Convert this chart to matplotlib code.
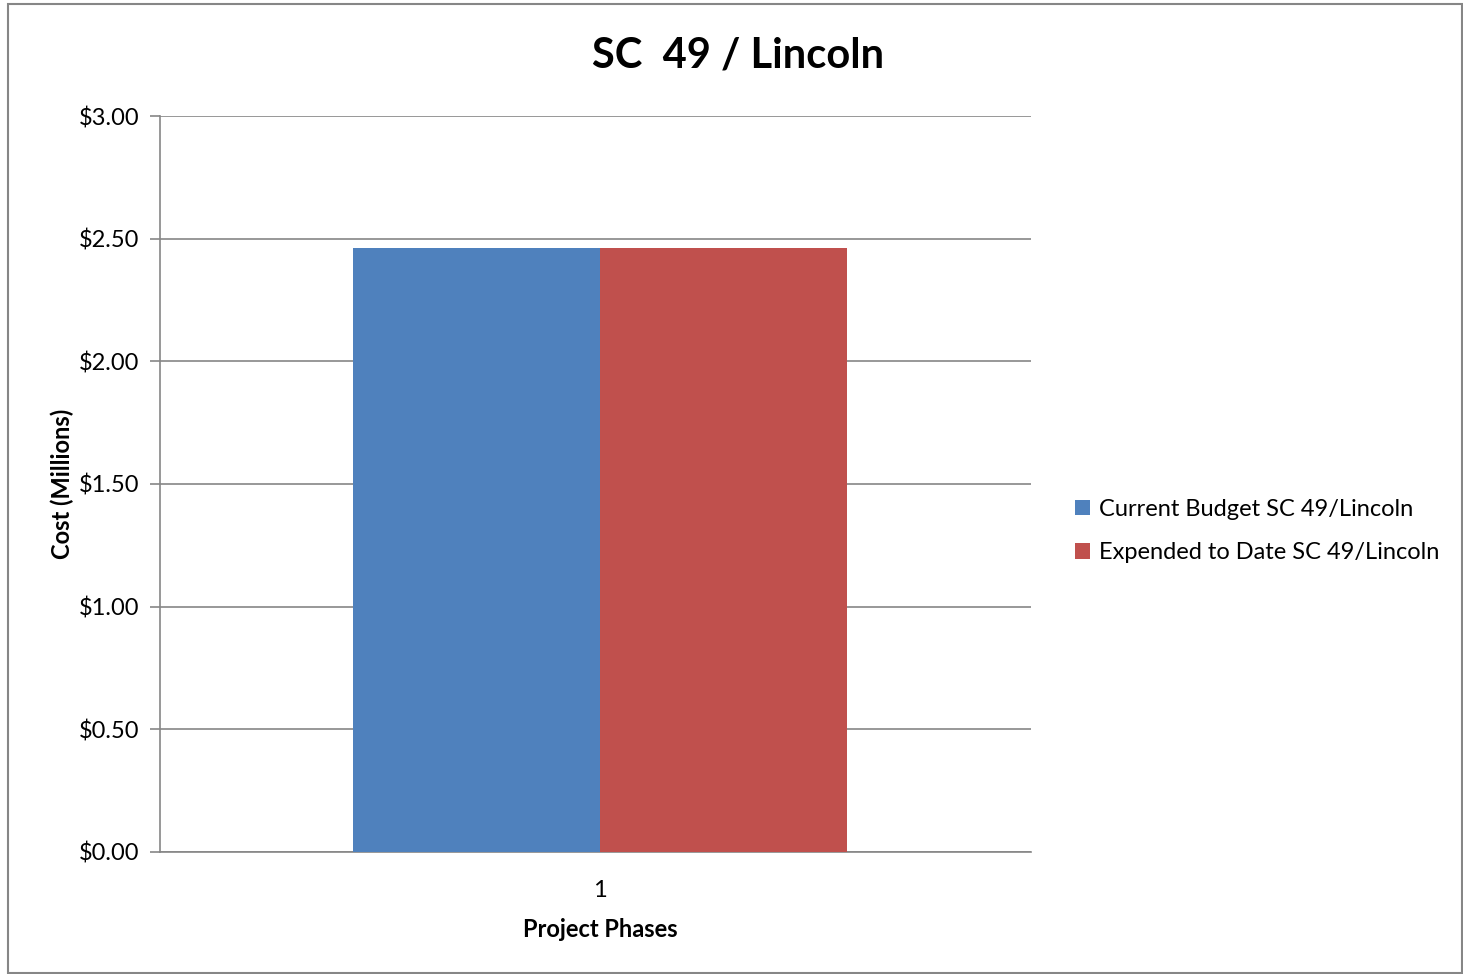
import matplotlib.pyplot as plt
import numpy as np
from matplotlib.patches import Rectangle

plt.rcParams["font.family"] = ["Lato", "DejaVu Sans"]

# data
phases = ["1"]
budget = [2.463]
expended = [2.463]
series_names = ["Current Budget SC 49/Lincoln", "Expended to Date SC 49/Lincoln"]
colors = ["#4f81bd", "#c0504d"]
yticks = [0.0, 0.5, 1.0, 1.5, 2.0, 2.5, 3.0]

fig = plt.figure(figsize=(14.63, 9.74), dpi=100)
ax = fig.add_axes([0.1094, 0.1253, 0.5953, 0.7556])

x = np.arange(len(phases))
bar_w = 0.2836
ax.bar(x - bar_w / 2, budget, bar_w, color=colors[0], label=series_names[0], zorder=3)
ax.bar(x + bar_w / 2, expended, bar_w, color=colors[1], label=series_names[1], zorder=3)

ax.set_xlim(-0.505, 0.495)
ax.set_ylim(0, 3.0)
ax.set_yticks(yticks)
ax.set_yticklabels([f"${v:.2f}" for v in yticks], fontsize=17)
ax.set_xticks(x)
ax.set_xticklabels(phases, fontsize=17)
ax.tick_params(axis="x", length=0, pad=20)
ax.tick_params(axis="y", length=7, color="#868686", width=1.2, pad=8)
ax.grid(axis="y", color="#868686", linewidth=1.2, zorder=0)
for side in ("top", "right"):
    ax.spines[side].set_visible(False)
for side in ("left", "bottom"):
    ax.spines[side].set_color("#868686")
    ax.spines[side].set_linewidth(1.2)

ax.set_xlabel("Project Phases", fontsize=17, fontweight="bold")
ax.xaxis.set_label_coords(0.505, -0.09)
ax.set_ylabel("Cost (Millions)", fontsize=17, fontweight="bold", labelpad=3.5)
fig.text(0.5045, 0.9435, "SC  49 / Lincoln", ha="center", va="center",
         fontsize=30, fontweight="bold")

ax.legend(loc="center left", bbox_to_anchor=(1.0505, 0.436), frameon=False,
          fontsize=17, handlelength=0.65, handleheight=0.65, handletextpad=0.35,
          labelspacing=0.95, borderpad=0, borderaxespad=0)

fig.patches.append(Rectangle((0.0055, 0.001), 0.9935, 0.9945, transform=fig.transFigure,
                             fill=False, edgecolor="#868686", linewidth=1.5))

fig.savefig("out.png", dpi=100)
